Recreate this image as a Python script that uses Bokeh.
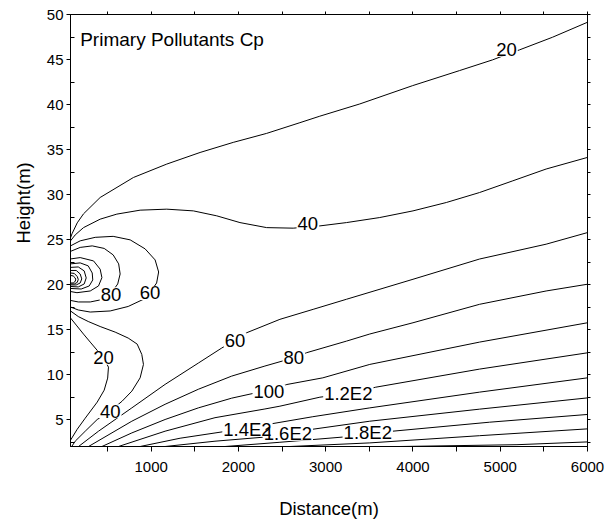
from bokeh.plotting import figure
from bokeh.models import (ColumnDataSource, LabelSet, Label, LinearAxis,
                          FixedTicker, Range1d, Title)
from bokeh.core.properties import value
from bokeh.embed import file_html
from bokeh.resources import INLINE

FONT = "Liberation Sans"
LABEL_PX = 18.5

# ---------------- axis ticks ----------------
x_ticks = [1000, 2000, 3000, 4000, 5000, 6000]
x_minor = [500, 1500, 2500, 3500, 4500, 5500]
y_ticks = [5, 10, 15, 20, 25, 30, 35, 40, 45, 50]
y_minor = [2.5, 7.5, 12.5, 17.5, 22.5, 27.5, 32.5, 37.5, 42.5, 47.5]

# ---------------- contour lines (metres) ----------------
c20_up_x = [75, 92, 152, 224, 415, 796, 1178, 1560, 1940, 2323, 2704, 2932, 3390, 3997, 4534, 4912, 5072, 5221, 5598, 6000]
c20_up_y = [25.18, 25.63, 26.85, 27.85, 29.67, 31.89, 33.38, 34.67, 35.79, 36.79, 37.98, 38.70, 40.06, 42.10, 43.77, 44.96, 45.55, 46.07, 47.47, 49.14]

c40_up_x = [75, 129, 224, 415, 606, 873, 1178, 1483, 1751, 2017, 2323, 2627, 2932, 3238, 3619, 4000, 4382, 4763, 5144, 5526, 6000]
c40_up_y = [24.85, 25.51, 26.32, 27.26, 27.82, 28.26, 28.37, 28.18, 27.63, 26.88, 26.32, 26.26, 26.51, 26.88, 27.44, 28.18, 29.11, 30.22, 31.52, 32.83, 34.12]

c60_loop_x = [75, 186, 358, 564, 759, 930, 1045, 1085, 1062, 987, 907, 736, 530, 301, 164, 75]
c60_loop_y = [24.29, 24.85, 25.24, 25.35, 24.96, 23.96, 22.73, 21.39, 20.17, 19.11, 18.34, 17.56, 17.06, 16.94, 17.17, 17.50]

c80_loop_x = [75, 186, 324, 461, 564, 627, 644, 616, 535, 438, 301, 164, 75]
c80_loop_y = [23.68, 24.12, 24.29, 24.01, 23.29, 22.29, 21.17, 20.06, 18.95, 18.33, 18.06, 18.06, 18.23]

c100_loop_x = [75, 186, 339, 415, 435, 396, 301, 149, 75]
c100_loop_y = [22.84, 22.99, 22.62, 21.70, 20.76, 19.84, 19.28, 19.09, 19.22]

c120_loop_x = [75, 186, 278, 324, 330, 290, 198, 75]
c120_loop_y = [22.29, 22.40, 22.07, 21.28, 20.51, 19.84, 19.50, 19.56]

c140_loop_x = [75, 164, 232, 255, 232, 164, 75]
c140_loop_y = [21.90, 21.95, 21.51, 20.73, 20.06, 19.73, 19.78]

c160_loop_x = [75, 141, 186, 204, 186, 141, 75]
c160_loop_y = [21.56, 21.56, 21.17, 20.62, 20.17, 19.95, 19.95]

c180_loop_x = [75, 118, 152, 164, 152, 118, 75]
c180_loop_y = [21.28, 21.23, 20.89, 20.56, 20.23, 20.06, 20.06]

c200_loop_x = [75, 106, 129, 135, 123, 106, 75]
c200_loop_y = [21.01, 20.95, 20.73, 20.51, 20.28, 20.17, 20.17]

c20_low_x = [75, 141, 224, 301, 453, 510, 501, 461, 381, 244, 152, 91, 75]
c20_low_y = [16.28, 15.49, 14.49, 13.60, 11.86, 10.82, 9.60, 8.26, 6.93, 5.15, 3.92, 2.95, 2.70]

c40_low_x = [75, 164, 278, 415, 587, 736, 839, 892, 911, 873, 778, 667, 530, 381, 244, 129, 89]
c40_low_y = [17.06, 16.44, 15.89, 15.33, 14.71, 14.05, 13.38, 12.23, 11.12, 9.63, 8.15, 7.04, 5.92, 5.00, 3.70, 2.59, 2.0]

c60_x = [167, 396, 778, 1159, 1540, 1808, 1960, 2094, 2475, 2856, 3238, 4000, 4763, 5526, 6000]
c60_y = [2.0, 3.70, 6.29, 8.90, 11.27, 12.94, 13.83, 14.64, 16.13, 17.24, 18.36, 20.58, 22.83, 24.48, 25.77]

c80_x = [282, 778, 1159, 1540, 1922, 2303, 2635, 2780, 3238, 3505, 4000, 4763, 5526, 6000]
c80_y = [2.0, 4.81, 6.69, 8.36, 9.82, 10.94, 11.86, 12.42, 13.71, 14.50, 15.75, 17.80, 19.28, 20.03]

c100_x = [435, 778, 1159, 1540, 1922, 2132, 2349, 2555, 2967, 3505, 4763, 6000]
c100_y = [2.0, 3.51, 5.00, 6.29, 7.37, 7.82, 8.26, 8.89, 9.63, 11.12, 13.60, 15.75]

c120_x = [625, 1159, 1731, 2303, 2475, 2933, 3259, 3573, 4763, 6000]
c120_y = [2.0, 3.70, 5.20, 6.17, 6.48, 7.48, 7.87, 8.59, 10.60, 12.41]

c140_x = [873, 1331, 1811, 2103, 2383, 2852, 3505, 4763, 6000]
c140_y = [2.0, 2.92, 3.62, 4.00, 4.53, 5.31, 6.29, 8.04, 9.63]

c160_x = [1159, 1731, 2280, 2566, 2852, 3505, 4763, 6000]
c160_y = [2.0, 2.59, 3.03, 3.42, 3.92, 4.81, 6.15, 7.40]

c180_x = [1846, 2475, 3196, 3482, 3768, 4878, 6000]
c180_y = [2.0, 2.47, 3.05, 3.35, 3.70, 4.70, 5.56]

c200_x = [2589, 3505, 4763, 6000]
c200_y = [2.0, 2.40, 3.20, 3.96]

c220_x = [3848, 5192, 6000]
c220_y = [2.0, 2.20, 2.51]

# ---------------- contour labels ----------------
label_text = ["20", "40", "60", "80", "20", "40", "60", "80", "100",
              "1.2E2", "1.4E2", "1.6E2", "1.8E2"]
label_x = [5072, 2795, 987, 539, 453, 530, 1960, 2635, 2349, 3259, 2103, 2566, 3482]
label_y = [46.07, 26.74, 19.06, 18.91, 11.86, 5.92, 13.83, 11.86, 8.15, 7.87, 3.89, 3.42, 3.51]

x_label = "Distance(m)"
y_label = "Height(m)"
note_text = "Primary Pollutants Cp"

# approximate glyph advance widths (em) used to size the gaps cut in the lines
ADV = {"0": 0.556, "1": 0.556, "2": 0.556, "4": 0.556, "6": 0.556, "8": 0.556,
       ".": 0.278, "E": 0.667}
gap_w = [LABEL_PX * sum(ADV.get(c, 0.556) for c in t) + 2 for t in label_text]

# ---------------- figure ----------------
p = figure(width=615, height=522, x_range=Range1d(75, 6000), y_range=Range1d(2, 50),
           output_backend="svg", toolbar_location=None,
           min_border_left=70, min_border_right=28, min_border_top=14, min_border_bottom=76)
p.grid.visible = False
p.outline_line_color = "black"
p.outline_line_alpha = 1.0
p.outline_line_width = 1
p.background_fill_color = "white"
p.border_fill_color = "white"

xb = p.below[0]
yl = p.left[0]
for ax in (xb, yl):
    ax.axis_line_color = "black"
    ax.major_tick_line_color = "black"
    ax.minor_tick_line_color = "black"
    ax.major_label_text_font = FONT
    ax.major_label_text_font_size = "15px"
    ax.major_label_text_color = "black"

xb.ticker = FixedTicker(ticks=x_ticks, minor_ticks=x_minor)
xb.major_tick_out = 5
xb.major_tick_in = 0
xb.minor_tick_out = 5
xb.minor_tick_in = 0
xb.major_label_standoff = 10
xb.axis_label = x_label
xb.axis_label_standoff = 23
xb.axis_label_text_font = FONT
xb.axis_label_text_font_size = "18.5px"
xb.axis_label_text_font_style = "normal"
xb.axis_label_text_color = "black"

yl.ticker = FixedTicker(ticks=y_ticks, minor_ticks=y_minor)
yl.major_tick_out = 4
yl.major_tick_in = 0
yl.minor_tick_out = 0
yl.minor_tick_in = 4
yl.major_label_standoff = 3

ry = LinearAxis(ticker=FixedTicker(ticks=y_ticks + y_minor, minor_ticks=[]),
                major_tick_out=3, major_tick_in=0, minor_tick_out=0, minor_tick_in=0,
                major_label_text_color=None, major_label_text_font_size="0px",
                axis_line_color="black", major_tick_line_color="black")
p.add_layout(ry, "right")
tx = LinearAxis(ticker=FixedTicker(ticks=x_ticks + x_minor, minor_ticks=[]),
                major_tick_out=3, major_tick_in=0, minor_tick_out=0, minor_tick_in=0,
                major_label_text_color=None, major_label_text_font_size="0px",
                axis_line_color="black", major_tick_line_color="black")
p.add_layout(tx, "above")

# vertical axis title, anchored from the bottom of the frame
p.add_layout(Title(text=y_label, align="left", offset=203, standoff=19,
                   text_font=FONT, text_font_size="18.5px", text_font_style="normal",
                   text_color="black"), "left")

xs = [c20_up_x, c40_up_x, c60_loop_x, c80_loop_x, c100_loop_x, c120_loop_x, c140_loop_x,
      c160_loop_x, c180_loop_x, c200_loop_x, c20_low_x, c40_low_x, c60_x, c80_x, c100_x,
      c120_x, c140_x, c160_x, c180_x, c200_x, c220_x]
ys = [c20_up_y, c40_up_y, c60_loop_y, c80_loop_y, c100_loop_y, c120_loop_y, c140_loop_y,
      c160_loop_y, c180_loop_y, c200_loop_y, c20_low_y, c40_low_y, c60_y, c80_y, c100_y,
      c120_y, c140_y, c160_y, c180_y, c200_y, c220_y]
src = ColumnDataSource(dict(xs=xs, ys=ys))
p.multi_line("xs", "ys", source=src, line_color="black", line_width=1)

# white gaps in the contour lines behind each label, then the label text on top
lsrc = ColumnDataSource(dict(x=label_x, y=label_y, text=label_text, w=gap_w))
p.rect(x="x", y="y", width="w", height=14, width_units="screen", height_units="screen",
       source=lsrc, fill_color="white", line_color=None)
p.add_layout(LabelSet(x="x", y="y", text="text", source=lsrc,
                      text_align="center", text_baseline="middle",
                      text_font=value(FONT), text_font_size=value("18.5px"),
                      text_color="black"))

p.add_layout(Label(x=186, y=47.2, text=note_text, text_align="left", text_baseline="middle",
                   text_font=FONT, text_font_size="19px", text_color="black"))

open("out.html", "w").write(file_html(p, INLINE))
